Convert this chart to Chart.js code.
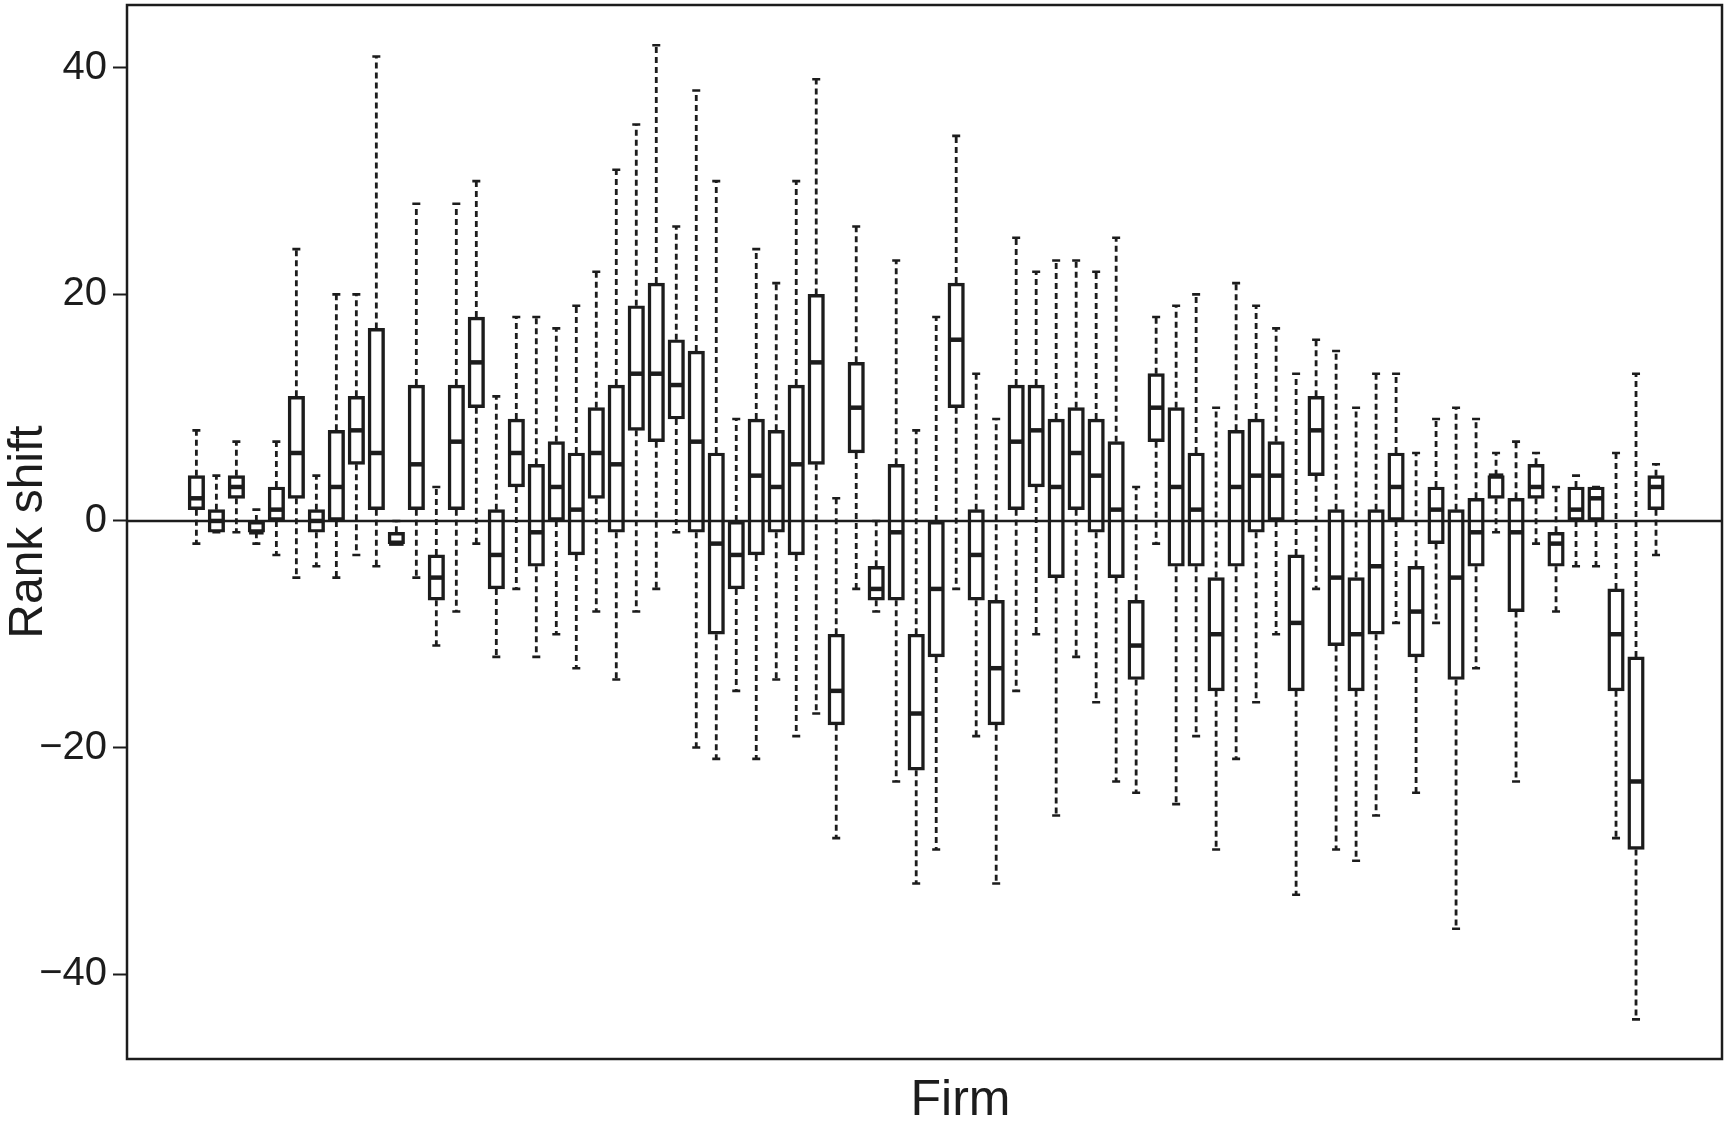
<!DOCTYPE html>
<html>
<head>
<meta charset="utf-8">
<script src="https://cdn.jsdelivr.net/npm/chart.js@4.4.1/dist/chart.umd.min.js"></script>
<style>
  html, body { margin: 0; padding: 0; background: #ffffff; overflow: hidden; }
  #c { display: block; }
</style>
</head>
<body>
<canvas id="c" width="1729" height="1137"></canvas>
<script>
// ---- Data (rank shift per firm) ----
const firms = Array.from({length: 74}, (_, i) => i + 1);
const whiskerLow = [-2,-1,-1,-2,-3,-5,-4,-5,-3,-4,-2,-5,-11,-8,-2,-12,-6,-12,-10,-13,-8,-14,-8,-6,-1,-20,-21,-15,-21,-14,-19,-17,-28,-6,-8,-23,-32,-29,-6,-19,-32,-15,-10,-26,-12,-16,-23,-24,-2,-25,-19,-29,-21,-16,-10,-33,-6,-29,-30,-26,-9,-24,-9,-36,-13,-1,-23,-2,-8,-4,-4,-28,-44,-3];
const q1 = [1,-1,2,-1,0,2,-1,0,5,1,-2,1,-7,1,10,-6,3,-4,0,-3,2,-1,8,7,9,-1,-10,-6,-3,-1,-3,5,-18,6,-7,-7,-22,-12,10,-7,-18,1,3,-5,1,-1,-5,-14,7,-4,-4,-15,-4,-1,0,-15,4,-11,-15,-10,0,-12,-2,-14,-4,2,-8,2,-4,0,0,-15,-29,1];
const median = [2,0,3,-1,1,6,0,3,8,6,-2,5,-5,7,14,-3,6,-1,3,1,6,5,13,13,12,7,-2,-3,4,3,5,14,-15,10,-6,-1,-17,-6,16,-3,-13,7,8,3,6,4,1,-11,10,3,1,-10,3,4,4,-9,8,-5,-10,-4,3,-8,1,-5,-1,4,-1,3,-2,1,2,-10,-23,3];
const q3 = [4,1,4,0,3,11,1,8,11,17,-1,12,-3,12,18,1,9,5,7,6,10,12,19,21,16,15,6,0,9,8,12,20,-10,14,-4,5,-10,0,21,1,-7,12,12,9,10,9,7,-7,13,10,6,-5,8,9,7,-3,11,1,-5,1,6,-4,3,1,2,4,2,5,-1,3,3,-6,-12,4];
const whiskerHigh = [8,4,7,1,7,24,4,20,20,41,0,28,3,28,30,11,18,18,17,19,22,31,35,42,26,38,30,9,24,21,30,39,2,26,0,23,8,18,34,13,9,25,22,23,23,22,25,3,18,19,20,10,21,19,17,13,16,15,10,13,13,6,9,10,9,6,7,6,3,4,3,6,13,5];
const yTickValues = [-40, -20, 0, 20, 40];
const yAxisTitle = 'Rank shift';
const xAxisTitle = 'Firm';

const INK = '#1c1c1c';

const boxData = firms.map((f, i) => ({ x: f, y: [q1[i], q3[i]] }));

const boxExtras = {
  id: 'boxExtras',
  afterDatasetsDraw(chart) {
    const { ctx, chartArea, scales: { x, y } } = chart;
    const meta = chart.getDatasetMeta(0);
    ctx.save();
    ctx.strokeStyle = INK;
    meta.data.forEach((bar, i) => {
      const p = bar.getProps(['x', 'width'], true);
      const cx = p.x, half = p.width / 2, cap = 4;
      const yQ1 = y.getPixelForValue(q1[i]);
      const yQ3 = y.getPixelForValue(q3[i]);
      const yLo = y.getPixelForValue(whiskerLow[i]);
      const yHi = y.getPixelForValue(whiskerHigh[i]);
      const yMed = y.getPixelForValue(median[i]);
      // dashed whiskers
      ctx.lineWidth = 2.8;
      ctx.setLineDash([6, 4]);
      ctx.beginPath();
      if (yHi < yQ3) { ctx.moveTo(cx, yQ3); ctx.lineTo(cx, yHi); }
      if (yLo > yQ1) { ctx.moveTo(cx, yQ1); ctx.lineTo(cx, yLo); }
      ctx.stroke();
      // caps
      ctx.setLineDash([]);
      ctx.lineWidth = 2.6;
      ctx.beginPath();
      ctx.moveTo(cx - cap, yHi); ctx.lineTo(cx + cap, yHi);
      ctx.moveTo(cx - cap, yLo); ctx.lineTo(cx + cap, yLo);
      ctx.stroke();
      // median
      ctx.lineWidth = 4.5;
      ctx.beginPath();
      ctx.moveTo(cx - half + 1, yMed); ctx.lineTo(cx + half - 1, yMed);
      ctx.stroke();
    });
    // zero reference line
    const y0 = y.getPixelForValue(0);
    ctx.lineWidth = 2.4;
    ctx.beginPath();
    ctx.moveTo(chartArea.left, y0); ctx.lineTo(chartArea.right, y0);
    ctx.stroke();
    // frame
    ctx.lineWidth = 2.5;
    ctx.strokeRect(chartArea.left, chartArea.top, chartArea.right - chartArea.left, chartArea.bottom - chartArea.top);
    // x-axis title
    ctx.fillStyle = INK;
    ctx.font = '50px "Liberation Sans", Arial, sans-serif';
    ctx.textAlign = 'center';
    ctx.textBaseline = 'alphabetic';
    ctx.fillText(xAxisTitle, (chartArea.left + chartArea.right) / 2 + 36, chartArea.bottom + 56);
    ctx.restore();
  }
};

new Chart(document.getElementById('c'), {
  type: 'bar',
  data: {
    datasets: [{
      label: 'Rank shift',
      data: boxData,
      backgroundColor: 'rgba(255,255,255,0)',
      borderColor: INK,
      borderWidth: 2.8,
      borderSkipped: false,
      barThickness: 16.5
    }]
  },
  options: {
    responsive: false,
    animation: false,
    devicePixelRatio: 1,
    layout: { padding: { left: 0, top: 5, right: 7, bottom: 78 } },
    plugins: { legend: { display: false }, tooltip: { enabled: false } },
    scales: {
      x: {
        type: 'linear',
        min: -2.47,
        max: 77.3,
        offset: false,
        grid: { offset: false },
        display: false
      },
      y: {
        type: 'linear',
        min: -47.5,
        max: 45.55,
        afterFit(scale) {
          scale.width = 127;
          scale.paddingTop = 0;
          scale.paddingBottom = 0;
        },
        afterBuildTicks(scale) { scale.ticks = yTickValues.map(v => ({ value: v })); },
        border: { display: false },
        grid: {
          drawOnChartArea: false,
          drawTicks: true,
          tickLength: 14,
          tickWidth: 2,
          tickColor: INK
        },
        ticks: {
          color: INK,
          padding: 6,
          font: { family: '"Liberation Sans", Arial, sans-serif', size: 40 },
          callback: (v) => (v < 0 ? '\u2212' + Math.abs(v) : String(v))
        },
        title: {
          display: true,
          text: yAxisTitle,
          color: INK,
          padding: 0,
          font: { family: '"Liberation Sans", Arial, sans-serif', size: 48 }
        }
      }
    }
  },
  plugins: [boxExtras]
});
</script>
</body>
</html>
